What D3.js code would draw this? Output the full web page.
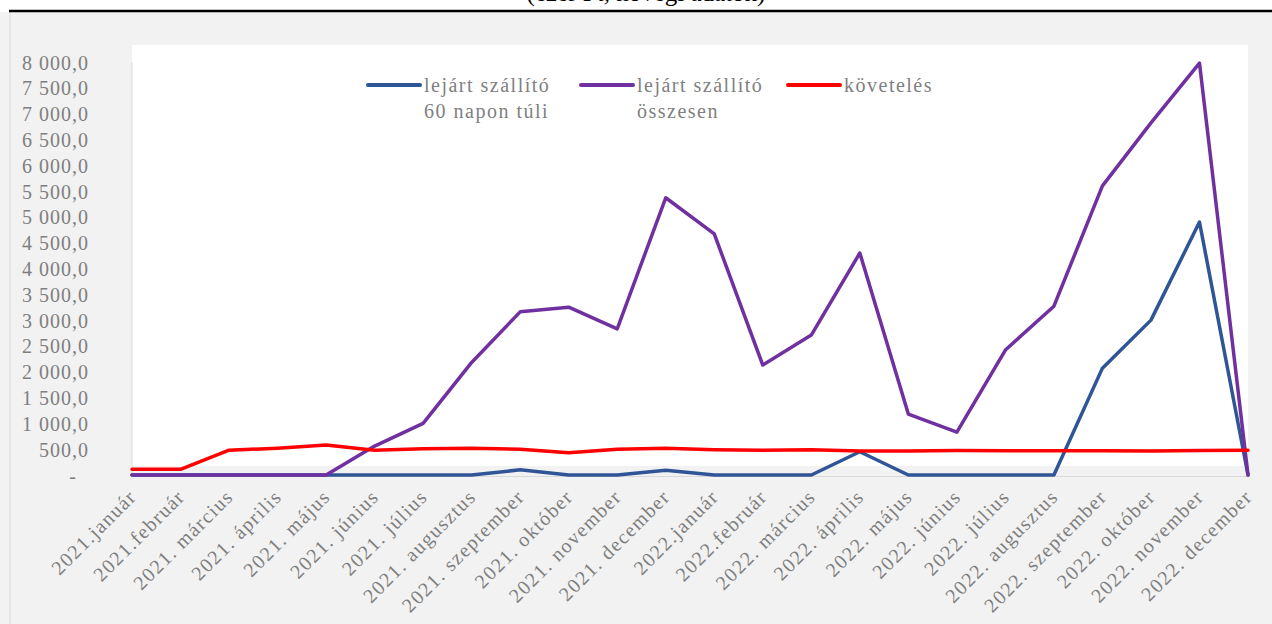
<!DOCTYPE html>
<html>
<head>
<meta charset="utf-8">
<script src="https://cdn.jsdelivr.net/npm/d3@7"></script>
<style>
  body { margin: 0; background: #fff; }
  svg { display: block; }
</style>
</head>
<body>
<div id="chart-container"></div>
<script>
const months = [
    "2021.január", "2021.február", "2021. március", "2021. április", "2021. május", "2021. június",
    "2021. július", "2021. augusztus", "2021. szeptember", "2021. október", "2021. november", "2021. december",
    "2022.január", "2022.február", "2022. március", "2022. április", "2022. május", "2022. június",
    "2022. július", "2022. augusztus", "2022. szeptember", "2022. október", "2022. november", "2022. december"
];
const lejart60 = [0, 0, 0, 0, 0, 0, 0, 0, 100, 0, 0, 90, 0, 0, 0, 450, 0, 0, 0, 0, 2070, 3000, 4900, 0];
const lejartOsszes = [0, 0, 0, 0, 0, 560, 1000, 2180, 3160, 3250, 2830, 5370, 4670, 2130, 2710, 4300, 1180, 830, 2420, 3270, 5600, 6820, 7980, 0];
const koveteles = [110, 110, 480, 520, 580, 480, 510, 520, 500, 430, 500, 520, 490, 480, 490, 465, 465, 475, 470, 470, 470, 465, 475, 480];
const yTicks = [0, 500, 1000, 1500, 2000, 2500, 3000, 3500, 4000, 4500, 5000, 5500, 6000, 6500, 7000, 7500, 8000];
const seriesNames = [["lejárt szállító", "60 napon túli"], ["lejárt szállító", "összesen"], ["követelés"]];
const colors = ["#2f5597", "#7030a0", "#ff0000"];

const W = 1272, H = 624;
const font = "'Liberation Serif', 'Times New Roman', serif";
const textColor = "#7f7f7f";

const svg = d3.select("#chart-container")
    .append("svg")
    .attr("width", W)
    .attr("height", H);

// chart area
svg.append("rect").attr("x", 0).attr("y", 12).attr("width", W).attr("height", H - 12).attr("fill", "#f2f2f2");
svg.append("line").attr("x1", 10).attr("x2", 10).attr("y1", 12).attr("y2", H).attr("stroke", "#d9d9d9");

// title (cut off by the top of the page, as in the source)
svg.append("text")
    .attr("x", 646)
    .attr("y", 0.5)
    .attr("text-anchor", "middle")
    .style("font-family", font)
    .style("font-size", "25px")
    .style("fill", "#000")
    .text("(ezer Ft, hóvégi adatok)");

svg.append("line").attr("x1", 9).attr("x2", W).attr("y1", 11).attr("y2", 11)
    .attr("stroke", "#000").attr("stroke-width", 2.5);

// scales
const xScale = d3.scalePoint().domain(months).range([132, 1248]);
const yScale = d3.scaleLinear().domain([0, 8000]).range([475, 62]);

// plot area
svg.append("rect").attr("x", 132).attr("y", 45).attr("width", 1116).attr("height", 421).attr("fill", "#fff");

// Y axis
const fmt = v => v === 0 ? "-" : d3.format(",.1f")(v).replace(/,/g, " ").replace(".", ",");
const yAxis = svg.append("g")
    .attr("transform", "translate(132,0)")
    .call(d3.axisLeft(yScale).tickValues(yTicks).tickSize(0).tickPadding(43).tickFormat(fmt));
yAxis.select(".domain").attr("stroke", "#d9d9d9").attr("d", `M0,${yScale(8000)}V${yScale(0)}`);
yAxis.selectAll("text")
    .style("font-family", font)
    .style("font-size", "20px")
    .style("letter-spacing", "1px")
    .style("fill", textColor)
    .attr("dy", "0.35em");
yAxis.selectAll("text").filter(d => d === 0).attr("dx", -12);

// X axis
const xAxis = svg.append("g")
    .attr("transform", `translate(0,${yScale(0) + 1})`)
    .call(d3.axisBottom(xScale).tickSize(0).tickPadding(0));
xAxis.select(".domain").attr("stroke", "#d9d9d9");
xAxis.selectAll("text")
    .style("font-family", font)
    .style("font-size", "20px")
    .style("letter-spacing", "1.4px")
    .style("fill", textColor)
    .attr("text-anchor", "end")
    .attr("dy", 0)
    .attr("y", 0)
    .attr("transform", "translate(5,22) rotate(-45)");

// lines
const line = d3.line()
    .x((d, i) => xScale(months[i]))
    .y(d => yScale(d));

[lejart60, lejartOsszes, koveteles].forEach((values, i) => {
    svg.append("path")
        .datum(values)
        .attr("fill", "none")
        .attr("stroke", colors[i])
        .attr("stroke-width", 3.5)
        .attr("stroke-linejoin", "round")
        .attr("stroke-linecap", "round")
        .attr("d", line);
});

// legend
const legendX = [368, 581, 788];
seriesNames.forEach((lines, i) => {
    const g = svg.append("g").attr("transform", `translate(${legendX[i]},85)`);
    g.append("line")
        .attr("x1", 0).attr("x2", 52)
        .attr("stroke", colors[i])
        .attr("stroke-width", 4)
        .attr("stroke-linecap", "round");
    lines.forEach((t, j) => {
        g.append("text")
            .attr("x", 56)
            .attr("y", 7 + j * 26)
            .style("font-family", font)
            .style("font-size", "20px")
            .style("letter-spacing", "1.5px")
            .style("fill", textColor)
            .text(t);
    });
});
</script>
</body>
</html>
